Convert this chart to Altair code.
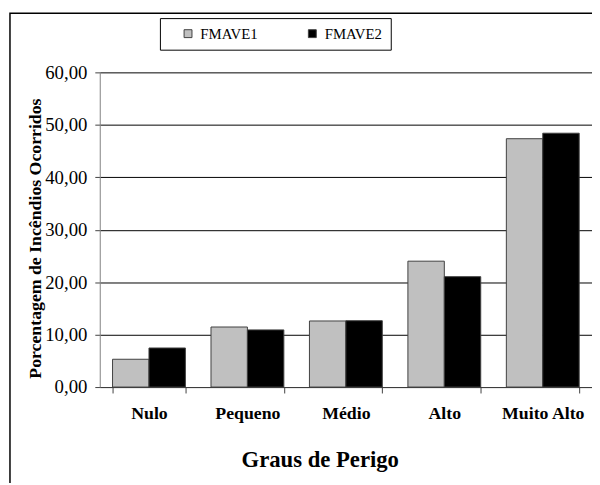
import altair as alt
import pandas as pd

categories = ["Nulo", "Pequeno", "Médio", "Alto", "Muito Alto"]
series = ["FMAVE1", "FMAVE2"]
fmave1 = [5.3, 11.45, 12.6, 24.0, 47.35]
fmave2 = [7.45, 10.9, 12.65, 21.05, 48.4]
y_ticks = [0, 10, 20, 30, 40, 50, 60]

rows = []
for i, c in enumerate(categories):
    rows.append({"grau": c, "serie": series[0], "valor": fmave1[i]})
    rows.append({"grau": c, "serie": series[1], "valor": fmave2[i]})
df = pd.DataFrame(rows)

FONT = "Times New Roman, Liberation Serif, serif"

bars = alt.Chart(df).mark_bar(stroke="#404040", strokeWidth=1).encode(
    x=alt.X(
        "grau:N",
        sort=categories,
        scale=alt.Scale(paddingInner=0.26, paddingOuter=0.13),
        axis=alt.Axis(
            title="Graus de Perigo",
            titleFont=FONT,
            titleFontSize=23,
            titleFontWeight="bold",
            titleColor="black",
            titleX=223,
            titleY=81,
            titleAlign="center",
            titleBaseline="alphabetic",
            labelFont=FONT,
            labelFontSize=18,
            labelFontWeight="bold",
            labelColor="black",
            labelAngle=0,
            labelPadding=12,
            tickBand="extent",
            tickSize=6,
            tickColor="#404040",
            domainColor="#404040",
            grid=False,
        ),
    ),
    xOffset=alt.XOffset("serie:N", sort=series, scale=alt.Scale(paddingInner=0, paddingOuter=0)),
    y=alt.Y(
        "valor:Q",
        scale=alt.Scale(domain=[0, 60], nice=False),
        axis=alt.Axis(
            title="Porcentagem de Incêndios Ocorridos",
            titleFont=FONT,
            titleFontSize=18,
            titleFontWeight="bold",
            titleColor="black",
            titleX=-65,
            titleY=168,
            titleAngle=270,
            titleAlign="center",
            titleBaseline="middle",
            values=y_ticks,
            labelExpr="replace(format(datum.value, '.2f'), '.', ',')",
            labelFont=FONT,
            labelFontSize=19,
            labelColor="black",
            labelPadding=8,
            tickSize=5,
            tickColor="#404040",
            domainColor="#808080",
            grid=True,
            gridColor="black",
            gridWidth=1,
        ),
    ),
    color=alt.Color(
        "serie:N",
        sort=series,
        scale=alt.Scale(domain=series, range=["#c0c0c0", "#000000"]),
        legend=alt.Legend(
            title=None,
            orient="none",
            legendX=61,
            legendY=-55,
            direction="horizontal",
            strokeColor="black",
            fillColor="white",
            padding=8,
            symbolType="square",
            symbolSize=64,
            symbolStrokeColor="#404040",
            symbolStrokeWidth=1,
            symbolOffset=13,
            labelFont=FONT,
            labelFontSize=15,
            labelColor="black",
            labelOffset=5,
            columnPadding=34,
        ),
    ),
)

frame = alt.Chart(pd.DataFrame({"a": [0]})).mark_rect(
    fill="transparent", stroke="black", strokeWidth=1.5
).encode(
    x=alt.value(-91), x2=alt.value(700), y=alt.value(-60), y2=alt.value(600)
)

chart = alt.layer(bars, frame).properties(
    width=499,
    height=319,
    autosize=alt.AutoSizeParams(type="none"),
    padding={"left": 93, "top": 62, "right": 0, "bottom": 94},
    background="white",
).configure_view(stroke=None)

chart.save("out.html", embed_options={"renderer": "svg", "actions": False})
